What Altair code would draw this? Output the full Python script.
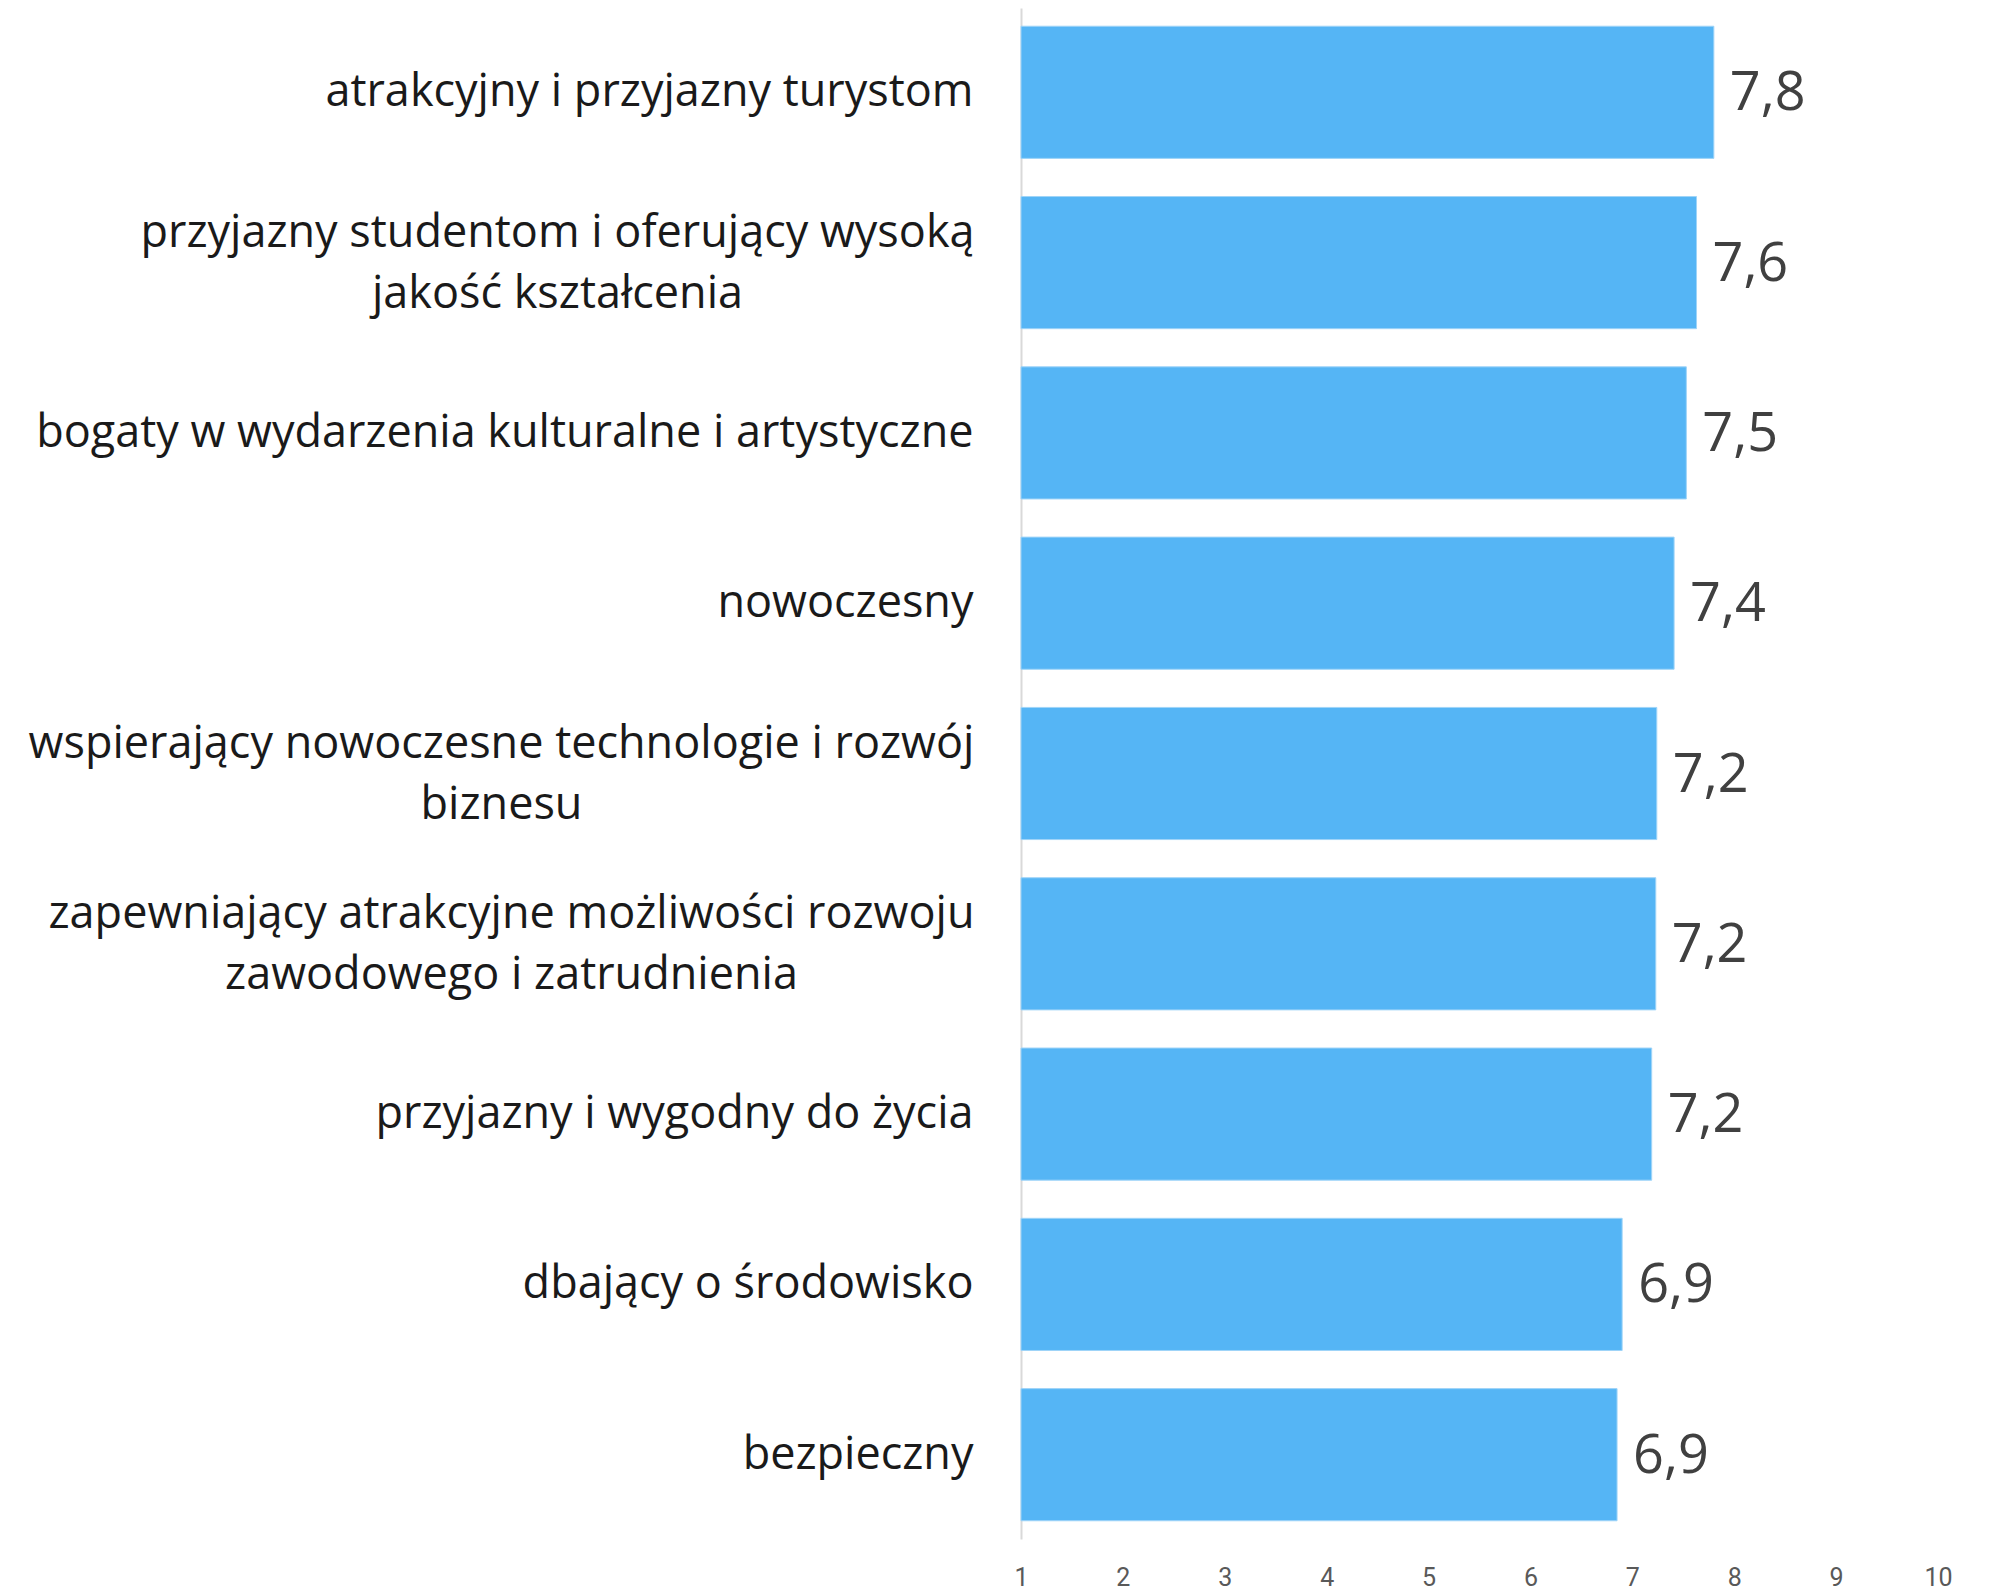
import altair as alt
import pandas as pd

categories = [
    "atrakcyjny i przyjazny turystom",
    "przyjazny studentom i oferujący wysoką|jakość kształcenia",
    "bogaty w wydarzenia kulturalne i artystyczne",
    "nowoczesny",
    "wspierający nowoczesne technologie i rozwój|biznesu",
    "zapewniający atrakcyjne możliwości rozwoju|zawodowego i zatrudnienia",
    "przyjazny i wygodny do życia",
    "dbający o środowisko",
    "bezpieczny",
]
values = [7.80, 7.63, 7.53, 7.41, 7.24, 7.23, 7.19, 6.90, 6.85]
value_labels = ["7,8", "7,6", "7,5", "7,4", "7,2", "7,2", "7,2", "6,9", "6,9"]
x_ticks = [1, 2, 3, 4, 5, 6, 7, 8, 9, 10]

df = pd.DataFrame({"cat": categories, "val": values, "lab": value_labels})

BASE_PAD = 48
# two-line labels are centred on their first line: padding = base + half first-line width
centre_pad = {
    "przyjazny studentom": 464,
    "wspierający nowoczesne": 520,
    "zapewniający atrakcyjne": 510,
}
pad_conditions = [
    {"test": f"indexof(datum.value, '{k}') >= 0", "value": v} for k, v in centre_pad.items()
]
multi_test = "indexof(datum.value, '|') >= 0"

y_enc = alt.Y(
    "cat:N",
    sort=categories,
    title=None,
    scale=alt.Scale(paddingInner=0.224, paddingOuter=0.107),
    axis=alt.Axis(
        labelExpr="split(datum.label, '|')",
        labelFont="Open Sans",
        labelFontSize=45,
        labelColor="#1a1a1a",
        labelLineHeight=61,
        labelPadding={"condition": pad_conditions, "value": BASE_PAD},
        labelAlign={"condition": {"test": multi_test, "value": "center"}, "value": "right"},
        labelLimit=2000,
        labelOffset={"condition": {"test": multi_test, "value": -30}, "value": 0},
        ticks=False,
        domain=True,
        domainColor="#d9d9d9",
        domainWidth=2,
        grid=False,
    ),
)
x_enc = alt.X(
    "val:Q",
    title=None,
    scale=alt.Scale(domain=[1, 10], zero=False, nice=False),
    axis=alt.Axis(
        values=x_ticks,
        format="d",
        labelFont="Roboto",
        labelFontSize=25,
        labelColor="#595959",
        labelPadding=26,
        ticks=False,
        domain=False,
        grid=False,
        labelFlush=False,
    ),
)

bars = alt.Chart(df).mark_bar(color="#55B5F5", stroke="#9fd4f8", strokeWidth=1).encode(
    x=x_enc, x2=alt.datum(1), y=y_enc
)
text = alt.Chart(df).mark_text(
    align="left", baseline="middle", dx=16, dy=2, font="Open Sans", fontSize=54, color="#404040"
).encode(x="val:Q", y=alt.Y("cat:N", sort=categories), text="lab:N")

chart = (
    alt.layer(bars, text)
    .properties(
        width=917,
        height=1531,
        background="white",
        autosize=alt.AutoSizeParams(type="none"),
        padding={"left": 1013, "top": 0, "right": 52, "bottom": 60},
    )
    .configure_view(strokeWidth=0, stroke="transparent")
)

chart.save("out.html", embed_options={"renderer": "svg", "actions": False})
